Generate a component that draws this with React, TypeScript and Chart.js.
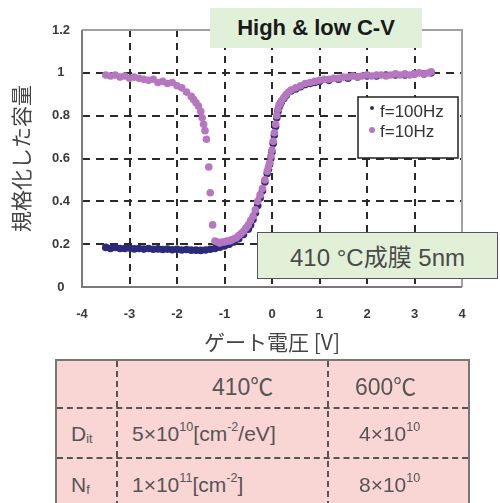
import React, { useEffect, useRef } from "react";
import { Chart, registerables } from "chart.js";

Chart.register(...registerables);

// ---- data ----
const xTickValues = [-4, -3, -2, -1, 0, 1, 2, 3, 4];
const yTickValues = [0, 0.2, 0.4, 0.6, 0.8, 1.0, 1.2];
const seriesLabels = ["f=100Hz", "f=10Hz"];
const seriesColors = ["#2c2a7c", "#b777c0"];
const chartTitle = "High & low C-V";
const noteText = "410 °C成膜 5nm";
const xAxisTitle = "ゲート電圧 [V]";
const yAxisTitle = "規格化した容量";

// [gate voltage (V), normalized capacitance]
const series100Hz: [number, number][] = [
  [-3.5, 0.185], [-3.4, 0.18], [-3.3, 0.185], [-3.2, 0.18], [-3.1, 0.18], [-3.0, 0.182],
  [-2.9, 0.178], [-2.8, 0.18], [-2.7, 0.177], [-2.6, 0.18], [-2.5, 0.176], [-2.4, 0.178],
  [-2.3, 0.175], [-2.2, 0.177], [-2.1, 0.174], [-2.0, 0.176], [-1.9, 0.173], [-1.8, 0.175],
  [-1.7, 0.172], [-1.6, 0.172], [-1.5, 0.171], [-1.4, 0.173], [-1.3, 0.176], [-1.2, 0.18],
  [-1.1, 0.186], [-1.0, 0.192], [-0.9, 0.2], [-0.8, 0.21], [-0.7, 0.225], [-0.6, 0.245],
  [-0.5, 0.27], [-0.45, 0.29], [-0.4, 0.315], [-0.35, 0.345], [-0.3, 0.38], [-0.25, 0.415],
  [-0.2, 0.45], [-0.15, 0.49], [-0.1, 0.53], [-0.075, 0.55], [-0.05, 0.575], [-0.025, 0.6],
  [0, 0.63], [0.025, 0.67], [0.05, 0.71], [0.075, 0.75], [0.1, 0.79], [0.125, 0.82],
  [0.15, 0.84], [0.175, 0.855], [0.2, 0.865], [0.25, 0.88], [0.3, 0.895], [0.4, 0.915],
  [0.5, 0.925], [0.6, 0.935], [0.7, 0.945], [0.8, 0.95], [0.9, 0.955], [1.0, 0.96],
  [1.2, 0.965], [1.4, 0.97], [1.6, 0.975], [1.8, 0.98], [2.0, 0.985], [2.2, 0.985],
  [2.4, 0.99], [2.6, 0.99], [2.8, 0.99], [3.0, 0.995], [3.2, 0.995], [3.35, 1.0],
];

const series10Hz: [number, number][] = [
  [-3.5, 0.99], [-3.4, 0.985], [-3.3, 0.99], [-3.2, 0.98], [-3.1, 0.985], [-3.0, 0.975],
  [-2.9, 0.98], [-2.8, 0.975], [-2.7, 0.97], [-2.6, 0.965], [-2.5, 0.97], [-2.4, 0.955],
  [-2.3, 0.96], [-2.2, 0.95], [-2.1, 0.955], [-2.0, 0.94], [-1.9, 0.93], [-1.8, 0.91],
  [-1.7, 0.89], [-1.65, 0.875], [-1.6, 0.86], [-1.55, 0.845], [-1.5, 0.82], [-1.47, 0.79],
  [-1.44, 0.76], [-1.41, 0.73], [-1.38, 0.69], [-1.33, 0.56], [-1.3, 0.44], [-1.25, 0.29],
  [-1.2, 0.215], [-1.15, 0.21], [-1.1, 0.205], [-1.05, 0.21], [-1.0, 0.21], [-0.95, 0.215],
  [-0.9, 0.215], [-0.85, 0.22], [-0.8, 0.225], [-0.75, 0.23], [-0.7, 0.24], [-0.65, 0.25],
  [-0.6, 0.26], [-0.55, 0.275], [-0.5, 0.29], [-0.45, 0.31], [-0.4, 0.33], [-0.35, 0.36],
  [-0.3, 0.4], [-0.25, 0.43], [-0.2, 0.46], [-0.15, 0.5], [-0.1, 0.54], [-0.075, 0.56],
  [-0.05, 0.58], [-0.025, 0.61], [0, 0.64], [0.025, 0.68], [0.05, 0.72], [0.075, 0.76],
  [0.1, 0.8], [0.125, 0.83], [0.15, 0.85], [0.175, 0.86], [0.2, 0.87], [0.25, 0.885],
  [0.3, 0.9], [0.35, 0.91], [0.4, 0.92], [0.5, 0.93], [0.6, 0.94], [0.7, 0.95],
  [0.8, 0.955], [0.9, 0.96], [1.0, 0.965], [1.1, 0.97], [1.2, 0.97], [1.3, 0.975],
  [1.4, 0.975], [1.5, 0.98], [1.6, 0.98], [1.7, 0.985], [1.8, 0.98], [1.9, 0.985],
  [2.0, 0.99], [2.1, 0.985], [2.2, 0.99], [2.3, 0.99], [2.4, 0.985], [2.5, 0.99],
  [2.6, 0.995], [2.7, 0.99], [2.8, 0.995], [2.9, 0.99], [3.0, 0.995], [3.1, 1.0],
  [3.2, 0.995], [3.3, 1.0], [3.35, 1.005],
];

const tableHead = ["", "410℃", "600℃"];
const tableRowLabels = ["D_{it}", "N_{f}"];
const table410 = ["5×10^{10}[cm^{-2}/eV]", "1×10^{11}[cm^{-2}]"];
const table600 = ["4×10^{10}", "8×10^{10}"];

// ---- helpers ----
function rich(s: string) {
  const out: any[] = [];
  const re = /(\^|_)\{([^}]*)\}/g;
  let last = 0;
  let m: RegExpExecArray | null;
  let k = 0;
  while ((m = re.exec(s))) {
    if (m.index > last) out.push(s.slice(last, m.index));
    if (m[1] === "^") {
      out.push(
        <span key={k++} style={{ fontSize: "0.6em", position: "relative", top: "-0.55em" }}>
          {m[2]}
        </span>
      );
    } else {
      out.push(
        <span key={k++} style={{ fontSize: "0.6em", position: "relative", top: "0.4em" }}>
          {m[2]}
        </span>
      );
    }
    last = re.lastIndex;
  }
  if (last < s.length) out.push(s.slice(last));
  return out;
}

const framePlugin = {
  id: "frame",
  beforeDatasetsDraw(chart: any) {
    const { ctx, chartArea: a } = chart;
    ctx.save();
    ctx.lineWidth = 2;
    ctx.strokeStyle = "#a0a0a0";
    ctx.beginPath();
    ctx.moveTo(a.left, a.top);
    ctx.lineTo(a.right, a.top);
    ctx.lineTo(a.right, a.bottom);
    ctx.stroke();
    ctx.strokeStyle = "#7a7a7a";
    ctx.beginPath();
    ctx.moveTo(a.left, a.top);
    ctx.lineTo(a.left, a.bottom);
    ctx.lineTo(a.right, a.bottom);
    ctx.stroke();
    ctx.restore();
  },
};

const legendBoxPlugin = {
  id: "legendBox",
  afterDraw(chart: any) {
    const { ctx, chartArea: a } = chart;
    const w = 100;
    const h = 61;
    const left = a.right - 104;
    const top = a.top + 67;
    ctx.save();
    ctx.fillStyle = "#ffffff";
    ctx.fillRect(left, top, w, h);
    ctx.lineWidth = 1.5;
    ctx.strokeStyle = "#222";
    ctx.strokeRect(left, top, w, h);
    chart.data.datasets.forEach((ds: any, i: number) => {
      const cy = top + 11 + i * 22;
      ctx.fillStyle = ds.backgroundColor;
      ctx.beginPath();
      ctx.arc(left + 14, cy, i === 0 ? 2 : 3, 0, Math.PI * 2);
      ctx.fill();
      ctx.fillStyle = "#333";
      ctx.font = '17px "Liberation Sans", Arial, sans-serif';
      ctx.textBaseline = "middle";
      ctx.textAlign = "left";
      ctx.fillText(ds.label, left + 22, cy + 4 - i * 2);
    });
    ctx.restore();
  },
};

export default function App() {
  const ref = useRef<HTMLCanvasElement | null>(null);

  useEffect(() => {
    document.body.style.margin = "0";
    const canvas = ref.current;
    if (!canvas) return;
    const tickFont = { family: '"Liberation Sans", Arial, sans-serif', size: 13, weight: "bold" as const };
    const titleFont = { family: '"Noto Sans CJK JP", sans-serif', size: 21 };
    const gridColor = (lo: number, hi: number) => (ctx: any) =>
      ctx.tick && (ctx.tick.value <= lo + 1e-9 || ctx.tick.value >= hi - 1e-9) ? "rgba(0,0,0,0)" : "#2a2a2a";

    const chart = new Chart(canvas, {
      type: "scatter",
      data: {
        datasets: [
          {
            label: seriesLabels[0],
            data: series100Hz.map(([x, y]) => ({ x, y })),
            backgroundColor: seriesColors[0],
            pointRadius: 3.8,
            pointBorderWidth: 0,
            order: 2,
          },
          {
            label: seriesLabels[1],
            data: series10Hz.map(([x, y]) => ({ x, y })),
            backgroundColor: seriesColors[1],
            pointRadius: 3.8,
            pointBorderWidth: 0,
            order: 1,
          },
        ],
      },
      options: {
        animation: false,
        responsive: false,
        devicePixelRatio: 1,
        layout: { padding: { left: 0, top: 30, right: 38, bottom: 146 } },
        plugins: { legend: { display: false }, tooltip: { enabled: false } },
        scales: {
          x: {
            type: "linear",
            min: xTickValues[0],
            max: xTickValues[xTickValues.length - 1],
            afterBuildTicks: (s: any) => {
              s.ticks = xTickValues.map((v) => ({ value: v }));
            },
            afterFit: (s: any) => {
              s.height = 70;
            },
            grid: { color: gridColor(-4, 4), lineWidth: 2, drawTicks: false },
            border: { display: false, dash: [7, 6] },
            ticks: { padding: 20, font: tickFont, color: "#3a3a3a", callback: (v: any) => String(Number(v)) },
            title: { display: true, text: xAxisTitle, font: titleFont, color: "#444", padding: { top: 0, bottom: 2 } },
          },
          y: {
            type: "linear",
            min: yTickValues[0],
            max: yTickValues[yTickValues.length - 1],
            afterBuildTicks: (s: any) => {
              s.ticks = yTickValues.map((v) => ({ value: v }));
            },
            afterFit: (s: any) => {
              s.width = 82;
            },
            grid: { color: gridColor(0, 1.2), lineWidth: 2, drawTicks: false },
            border: { display: false, dash: [8, 6] },
            ticks: {
              padding: 12,
              crossAlign: "center",
              font: tickFont,
              color: "#3a3a3a",
              callback: (v: any) => String(Math.round(Number(v) * 10) / 10),
            },
            title: { display: true, text: yAxisTitle, font: titleFont, color: "#444", padding: { top: 8, bottom: 0 } },
          },
        },
      },
      plugins: [framePlugin, legendBoxPlugin],
    } as any);
    return () => chart.destroy();
  }, []);

  const cellText = { color: "#555", fontFamily: '"Liberation Sans", "Noto Sans CJK JP", sans-serif' };
  const dashV = "2px dashed #555";
  const rowTops = [359, 407, 457];
  const rowHeights = [48, 50, 52];
  const colLefts = [55, 116, 327];
  const colWidths = [61, 211, 143];

  const cell = (r: number, c: number, content: any, extra: any) => (
    <div
      key={`${r}-${c}`}
      style={{
        position: "absolute",
        left: colLefts[c] - 55,
        top: rowTops[r] - 359,
        width: colWidths[c],
        height: rowHeights[r],
        boxSizing: "border-box",
        display: "flex",
        alignItems: "center",
        whiteSpace: "nowrap",
        ...cellText,
        ...extra,
      }}
    >
      {content}
    </div>
  );

  return (
    <div
      style={{
        position: "absolute",
        left: 0,
        top: 0,
        width: 500,
        height: 503,
        overflow: "hidden",
        background: "#fff",
      }}
    >
      <canvas ref={ref} width={500} height={503} style={{ position: "absolute", left: 0, top: 0 }} />
      <div
        style={{
          position: "absolute",
          left: 210,
          top: 8,
          width: 212,
          height: 40,
          background: "#e0f0d9",
          display: "flex",
          alignItems: "center",
          justifyContent: "center",
          font: 'bold 22px "Liberation Sans", Arial, sans-serif',
          color: "#1a1a1a",
        }}
      >
        {chartTitle}
      </div>
      <div
        style={{
          position: "absolute",
          left: 257,
          top: 232,
          width: 241,
          height: 47,
          boxSizing: "border-box",
          background: "#e3f0d8",
          border: "1.5px solid #555",
          display: "flex",
          alignItems: "center",
          justifyContent: "center",
          font: '24px "Liberation Sans", "Noto Sans CJK JP", sans-serif',
          color: "#4a4a4a",
          whiteSpace: "nowrap",
        }}
      >
        {noteText}
      </div>
      <div
        style={{
          position: "absolute",
          left: 55,
          top: 359,
          width: 415,
          height: 160,
          boxSizing: "border-box",
          background: "#f9d6d4",
          border: "2px solid #777",
        }}
      >
        <div style={{ position: "absolute", left: 0, right: 0, top: 407 - 359 - 2, borderTop: dashV }} />
        <div style={{ position: "absolute", left: 0, right: 0, top: 457 - 359 - 2, borderTop: dashV }} />
        <div style={{ position: "absolute", top: 0, bottom: 0, left: 116 - 55 - 2, borderLeft: dashV }} />
        <div style={{ position: "absolute", top: 0, bottom: 0, left: 327 - 55 - 2, borderLeft: dashV }} />
        {cell(0, 1, tableHead[1], { fontSize: 23, paddingLeft: 94 })}
        {cell(0, 2, tableHead[2], { fontSize: 23, paddingLeft: 26 })}
        {tableRowLabels.map((lab, i) => cell(i + 1, 0, rich(lab), { fontSize: 21, paddingLeft: 14 }))}
        {table410.map((v, i) => cell(i + 1, 1, rich(v), { fontSize: 21, paddingLeft: 14 }))}
        {table600.map((v, i) => cell(i + 1, 2, rich(v), { fontSize: 21, paddingLeft: 30 }))}
      </div>
    </div>
  );
}
